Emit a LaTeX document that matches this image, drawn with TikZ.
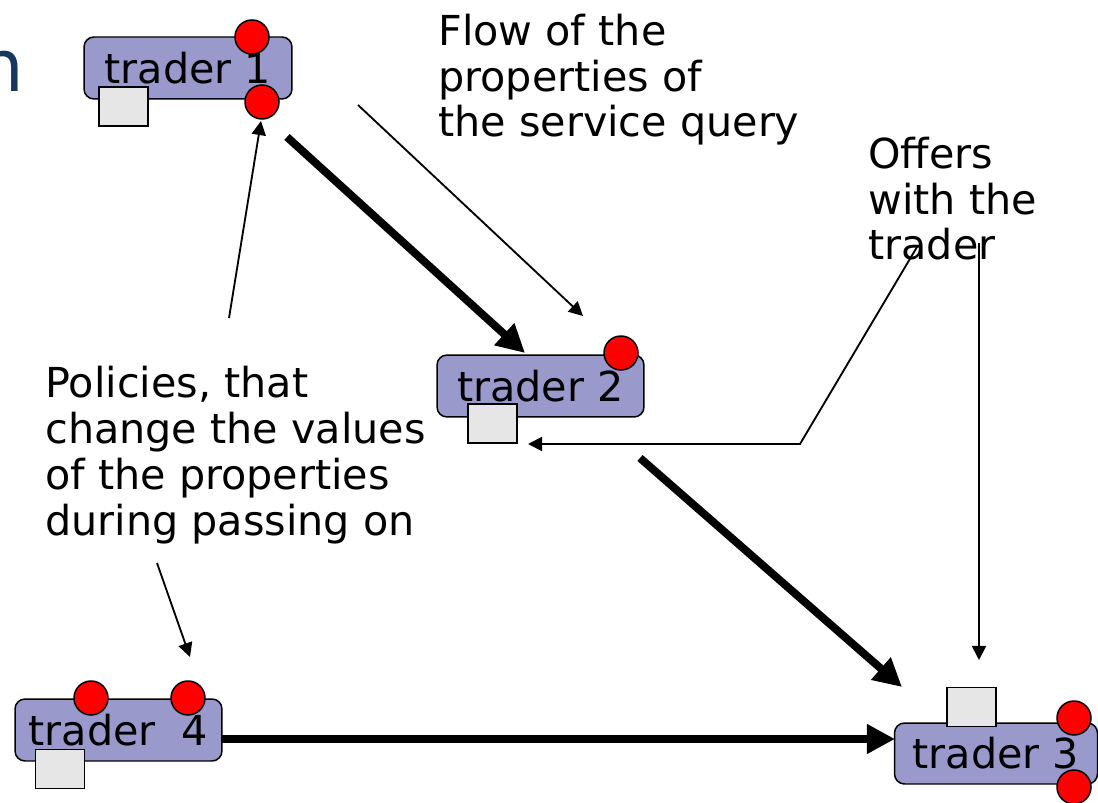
\documentclass[tikz,border=0pt]{standalone}
\usepackage{fontspec}
\setmainfont{DejaVu Sans}
\usetikzlibrary{arrows.meta}
\definecolor{boxfill}{HTML}{9999CC}
\definecolor{portgrey}{HTML}{E6E6E6}
\definecolor{titleblue}{HTML}{17375E}
\begin{document}
\begin{tikzpicture}[x=0.02cm,y=-0.02cm,
  traderbox/.style={draw=black, line width=0.85pt, fill=boxfill, rounded corners=0.2cm,
    minimum height=1.24cm, inner sep=0pt, font=\fontsize{23.5}{26}\selectfont},
  portdot/.style={draw=black, line width=0.85pt, fill=red, circle, minimum size=0.68cm, inner sep=0pt},
  offerbox/.style={draw=black, line width=0.85pt, fill=portgrey, minimum width=0.98cm,
    minimum height=0.78cm, inner sep=0pt},
  notetext/.style={align=left, inner sep=0pt, font=\fontsize{23.5}{26}\selectfont},
  flowarrow/.style={line width=4.5pt, -{Triangle[length=16pt,width=16pt]}},
  notearrow/.style={line width=1.05pt, -{Triangle[length=8pt,width=8pt]}}
]
\useasboundingbox (0,0) rectangle (1098,803);
\clip (0,0) rectangle (1098,803);

% heading letter running in from the left edge
\node[anchor=base west, inner sep=0pt, text=titleblue, font=\fontsize{41}{41}\selectfont] (title) at (-22,92) {n};

% traders with their ports and offer stores
\node[traderbox, minimum width=4.16cm] (t1) at (188,68) {trader 1};
\node[offerbox] (o1) at (123.5,106.5) {};
\node[portdot] (p1a) at (252,37) {};
\node[portdot] (p1b) at (262,102) {};

\node[traderbox, minimum width=4.14cm] (t2) at (540.5,386) {trader 2};
\node[offerbox] (o2) at (492.5,423.5) {};
\node[portdot] (p2) at (621,353) {};

\node[traderbox, minimum width=4.14cm] (t4) at (118.5,730) {trader\ \ 4};
\node[offerbox] (o4) at (60,769) {};
\node[portdot] (p4a) at (91,698) {};
\node[portdot] (p4b) at (188,698) {};

\node[traderbox, minimum width=4.06cm, minimum height=1.22cm] (t3) at (996,753.5) {trader 3};
\node[offerbox] (o3) at (971.5,707) {};
\node[portdot] (p3a) at (1074,718) {};
\node[portdot] (p3b) at (1074,787) {};

% annotations (base anchor sits on the last line)
\node[notetext, anchor=base west] (flowtxt) at (438,137) {Flow of the\\properties of\\the service query};
\node[notetext, anchor=base west] (offtxt) at (868,260) {Offers\\with the\\trader};
\node[notetext, anchor=base west] (poltxt) at (45,535) {Policies, that\\change the values\\of the properties\\during passing on};

% end points of the connectors
\coordinate (f1s) at (287,137);  \coordinate (f1e) at (525,353);
\coordinate (f2s) at (640,458);  \coordinate (f2e) at (902,687);
\coordinate (f3s) at (222,739);  \coordinate (f3e) at (895,739);
\coordinate (qs) at (358,105);   \coordinate (qe) at (583,316);
\coordinate (pa) at (229,318);   \coordinate (pae) at (261,121);
\coordinate (pb) at (157,563);   \coordinate (pbe) at (190,657);
\coordinate (oa) at (917,247);   \coordinate (ob) at (800,444);  \coordinate (oe) at (528,444);
\coordinate (va) at (979,243);   \coordinate (ve) at (979,660);

% query passing between traders
\draw[flowarrow] (f1s) -- (f1e);
\draw[flowarrow] (f2s) -- (f2e);
\draw[flowarrow] (f3s) -- (f3e);

% pointers from the annotations
\draw[notearrow] (qs) -- (qe);
\draw[notearrow] (pa) -- (pae);
\draw[notearrow] (pb) -- (pbe);
\draw[notearrow] (oa) -- (ob) -- (oe);
\draw[notearrow] (va) -- (ve);
\end{tikzpicture}
\end{document}
